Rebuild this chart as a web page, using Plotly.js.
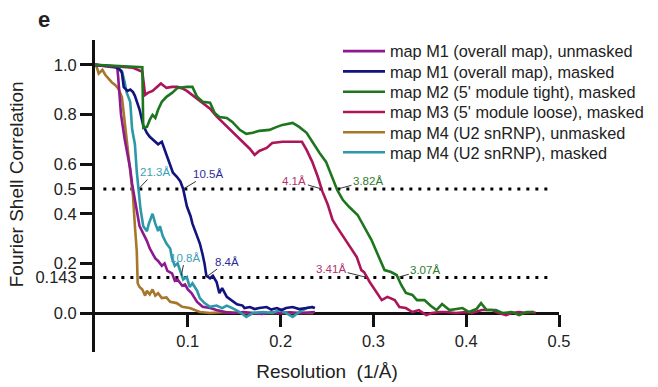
<!DOCTYPE html>
<html>
<head>
<meta charset="utf-8">
<script src="https://cdn.plot.ly/plotly-3.0.1.min.js"></script>
<style>html,body{margin:0;padding:0;background:#fff;}#chart{width:658px;height:387px;}</style>
</head>
<body>
<div id="chart"></div>
<script>
// ---- data ----
const seriesNames = [
  "map M1 (overall map), unmasked",
  "map M1 (overall map), masked",
  "map M2 (5' module tight), masked",
  "map M3 (5' module loose), masked",
  "map M4 (U2 snRNP), unmasked",
  "map M4 (U2 snRNP), masked"
];

const m1UnmaskedX = [0,0.024,0.025,0.026,0.028,0.032,0.035,0.038,0.040,0.042,0.045,0.048,0.052,0.056,0.059,0.065,0.068,0.072,0.075,0.078,0.083,0.086,0.089,0.094,0.097,0.100,0.104,0.110,0.116,0.124,0.131,0.140,0.150,0.160,0.170,0.180,0.190,0.200,0.210,0.220,0.230,0.237];
const m1UnmaskedY = [1.0,0.988,0.95,0.9,0.8,0.70,0.64,0.58,0.52,0.48,0.41,0.35,0.32,0.29,0.26,0.22,0.21,0.19,0.20,0.17,0.16,0.13,0.135,0.11,0.115,0.095,0.08,0.045,0.025,0.02,0.012,0.004,0.0,0.004,0.0,-0.004,0.002,0.0,0.003,0.0,0.002,0.004];

const m1MaskedX = [0,0.022,0.027,0.029,0.031,0.035,0.038,0.041,0.043,0.046,0.048,0.052,0.056,0.059,0.065,0.068,0.072,0.075,0.078,0.081,0.084,0.088,0.092,0.095,0.099,0.103,0.105,0.110,0.113,0.116,0.118,0.120,0.124,0.127,0.131,0.134,0.137,0.142,0.147,0.153,0.159,0.161,0.167,0.172,0.177,0.185,0.190,0.196,0.201,0.206,0.213,0.220,0.228,0.234,0.237];
const m1MaskedY = [1.0,0.992,0.98,0.968,0.91,0.895,0.9,0.89,0.875,0.84,0.82,0.755,0.725,0.71,0.69,0.68,0.69,0.66,0.63,0.60,0.565,0.55,0.53,0.50,0.43,0.39,0.36,0.31,0.28,0.235,0.2,0.15,0.14,0.15,0.125,0.08,0.10,0.065,0.05,0.035,0.03,0.02,0.024,0.016,0.02,0.024,0.014,0.02,0.012,0.02,0.024,0.016,0.02,0.024,0.02];

const m2X = [0,0.027,0.051,0.052,0.056,0.059,0.062,0.065,0.068,0.072,0.077,0.083,0.089,0.099,0.105,0.110,0.116,0.124,0.129,0.134,0.142,0.148,0.156,0.163,0.170,0.177,0.188,0.196,0.202,0.213,0.220,0.228,0.234,0.242,0.249,0.256,0.261,0.267,0.274,0.283,0.290,0.298,0.304,0.312,0.319,0.325,0.330,0.335,0.342,0.347,0.355,0.362,0.368,0.374,0.382,0.389,0.396,0.403,0.411,0.416,0.422,0.432,0.439,0.449,0.457,0.465,0.473];
const m2Y = [1.0,0.996,0.99,0.746,0.75,0.778,0.798,0.786,0.819,0.851,0.871,0.887,0.907,0.911,0.911,0.871,0.851,0.847,0.806,0.79,0.786,0.770,0.738,0.722,0.726,0.734,0.738,0.75,0.758,0.766,0.75,0.726,0.69,0.645,0.609,0.544,0.496,0.456,0.427,0.395,0.347,0.294,0.242,0.173,0.165,0.153,0.113,0.081,0.073,0.052,0.052,0.028,0.012,0.036,0.012,0.016,0.02,0.004,0.016,0.04,0.012,0.012,0.0,0.004,-0.008,0.004,0.004];

const m3X = [0,0.024,0.041,0.051,0.054,0.057,0.062,0.068,0.071,0.077,0.083,0.089,0.094,0.099,0.110,0.116,0.124,0.131,0.138,0.145,0.153,0.159,0.167,0.172,0.177,0.185,0.191,0.202,0.213,0.223,0.228,0.234,0.240,0.245,0.251,0.256,0.261,0.267,0.274,0.282,0.287,0.290,0.296,0.303,0.309,0.315,0.323,0.328,0.335,0.342,0.349,0.357,0.363,0.371,0.378,0.389,0.400,0.406,0.417,0.428,0.435,0.443,0.449,0.457,0.465,0.471,0.475];
const m3Y = [1.0,0.992,0.988,0.972,0.879,0.887,0.895,0.915,0.925,0.907,0.911,0.911,0.905,0.895,0.863,0.845,0.823,0.792,0.766,0.742,0.714,0.69,0.661,0.637,0.653,0.665,0.685,0.69,0.69,0.69,0.657,0.61,0.55,0.49,0.435,0.375,0.345,0.31,0.27,0.226,0.173,0.165,0.125,0.085,0.052,0.065,0.052,0.024,0.02,0.004,0.012,-0.008,0.0,0.004,0.004,0.0,0.004,0.0,0.012,0.012,0.0,-0.008,0.0,0.004,0.0,0.004,0.0];

const m4UnmaskedX = [0,0.002,0.004,0.008,0.011,0.014,0.018,0.022,0.025,0.029,0.032,0.035,0.039,0.041,0.043,0.045,0.046,0.048,0.051,0.054,0.056,0.059,0.062,0.065,0.068,0.072,0.077,0.081,0.088,0.094,0.102,0.113,0.124,0.140,0.160,0.180,0.200,0.220,0.235];
const m4UnmaskedY = [1.0,0.99,0.965,0.98,0.96,0.945,0.93,0.918,0.905,0.87,0.77,0.66,0.54,0.47,0.35,0.25,0.12,0.105,0.095,0.07,0.09,0.075,0.095,0.07,0.08,0.06,0.063,0.045,0.04,0.025,0.02,0.004,0.0,0.004,0.0,0.0,0.0,0.0,0.0];

const m4MaskedX = [0,0.022,0.027,0.029,0.032,0.034,0.036,0.038,0.040,0.043,0.045,0.047,0.049,0.052,0.056,0.058,0.062,0.065,0.068,0.070,0.073,0.077,0.081,0.083,0.086,0.089,0.092,0.095,0.099,0.102,0.105,0.110,0.113,0.118,0.124,0.131,0.137,0.142,0.148,0.156,0.163,0.170,0.181,0.191,0.199,0.206,0.213,0.220,0.228,0.234,0.236];
const m4MaskedY = [1.0,0.992,0.98,0.975,0.93,0.89,0.87,0.85,0.74,0.68,0.57,0.5,0.42,0.35,0.33,0.36,0.40,0.36,0.33,0.35,0.31,0.28,0.26,0.22,0.19,0.2,0.165,0.135,0.145,0.105,0.12,0.09,0.06,0.04,0.025,0.03,0.02,0.03,0.02,0.004,-0.016,0.0,0.004,0.0,0.012,0.0,-0.016,0.004,0.02,0.024,0.02];

const seriesX = [m1UnmaskedX, m1MaskedX, m2X, m3X, m4UnmaskedX, m4MaskedX];
const seriesY = [m1UnmaskedY, m1MaskedY, m2Y, m3Y, m4UnmaskedY, m4MaskedY];

// FSC thresholds and the dotted-line span (1/Å)
const thresholds = [0.5, 0.143];
const thresholdSpan = [0.009, 0.489];

// Resolution labels: resolution (Å), threshold crossed, series index
const labelRes = [21.3, 10.5, 10.8, 8.4, 4.1, 3.82, 3.41, 3.07];
const labelFsc = [0.5, 0.5, 0.143, 0.143, 0.5, 0.5, 0.143, 0.143];
const labelSeries = [5, 1, 5, 1, 3, 2, 3, 2];

// axis ticks
const xTickVals = [0.1, 0.2, 0.3, 0.4, 0.5];
const xTickText = ["0.1", "0.2", "0.3", "0.4", "0.5"];
const yTickVals = [0.0, 0.143, 0.2, 0.4, 0.5, 0.6, 0.8, 1.0];
const yTickText = ["0.0", "0.143", "0.2", "0.4", "0.5", "0.6", "0.8", "1.0"];

// ---- styles ----
const colors = ["#8c1a8e", "#12137f", "#1d761d", "#ab1559", "#a6762b", "#2c98a9"];
const labelColors = ["#8c1a8e", "#2b2b9a", "#2c7a2c", "#b3336c", "#a6762b", "#3a9fb3"];
const labelOffsets = [[16,-17],[25,-15],[4,-20],[22,-16],[-27,-8],[30,-8],[-36,-9],[28,-8]];
const legendRowY = [0.963, 0.898, 0.833, 0.768, 0.703, 0.639]; // paper fractions of legend rows
const FONT = "Arial, 'Liberation Sans', sans-serif";

const traces = [];
thresholds.forEach(t => {
  traces.push({
    x: thresholdSpan, y: [t, t], mode: "lines", showlegend: false, hoverinfo: "skip",
    line: {color: "#000", width: 3, dash: "3px,6px"}
  });
});
const drawOrder = [4, 0, 5, 1, 3, 2];
drawOrder.forEach(i => {
  traces.push({
    x: seriesX[i], y: seriesY[i], mode: "lines", name: seriesNames[i],
    legend: i === 0 ? "legend" : "legend" + (i + 1),
    line: {color: colors[i], width: 2.6}
  });
});

const annotations = labelRes.map((r, k) => ({
  x: 1 / r, y: labelFsc[k], xref: "x", yref: "y",
  text: r + "Å", showarrow: true, arrowhead: 0, arrowwidth: 1, arrowcolor: "#333",
  ax: labelOffsets[k][0], ay: labelOffsets[k][1], standoff: 2,
  font: {family: FONT, size: 11.5, color: labelColors[labelSeries[k]]}
}));
annotations.push({
  xref: "paper", yref: "paper", x: -0.110, y: 1.067, xanchor: "center", yanchor: "middle",
  text: "<b>e</b>", showarrow: false, font: {family: FONT, size: 22, color: "#222"}
});
annotations.push({
  xref: "paper", yref: "paper", x: -0.170, y: 0.538, xanchor: "center", yanchor: "middle",
  textangle: -90, text: "Fourier Shell Correlation", showarrow: false,
  font: {family: FONT, size: 19, color: "#222"}
});

const layout = {
  width: 658, height: 387,
  margin: {l: 95, r: 99, t: 40, b: 35, autoexpand: false},
  paper_bgcolor: "#fff", plot_bgcolor: "#fff",
  font: {family: FONT, color: "#222"},
  showlegend: true,
  xaxis: {
    range: [0, 0.5], anchor: "free", position: 0.1249,
    showline: true, linewidth: 3, linecolor: "#111",
    ticks: "outside", ticklen: 12, tickwidth: 3, tickcolor: "#111",
    tickvals: xTickVals, ticktext: xTickText,
    tickfont: {family: FONT, size: 16.5, color: "#222"},
    showgrid: false, zeroline: false, layer: "below traces",
    title: {text: "Resolution\u00a0\u00a0(1/Å)", font: {family: FONT, size: 19, color: "#222"}, standoff: 15}
  },
  yaxis: {
    range: [-0.157, 1.10], anchor: "x",
    showline: true, linewidth: 3, linecolor: "#111",
    ticks: "outside", ticklen: 12, tickwidth: 3, tickcolor: "#111",
    tickvals: yTickVals, ticktext: yTickText,
    tickfont: {family: FONT, size: 16.5, color: "#222"},
    showgrid: false, zeroline: false, layer: "below traces"
  },
  annotations: annotations
};
legendRowY.forEach((yy, i) => {
  layout[i === 0 ? "legend" : "legend" + (i + 1)] = {
    x: 0.5237, y: yy, xanchor: "left", yanchor: "middle",
    font: {family: FONT, size: 16.3, color: "#222"},
    bgcolor: "rgba(0,0,0,0)", borderwidth: 0, itemwidth: 42
  };
});

Plotly.newPlot("chart", traces, layout, {displayModeBar: false, staticPlot: true});
</script>
</body>
</html>
